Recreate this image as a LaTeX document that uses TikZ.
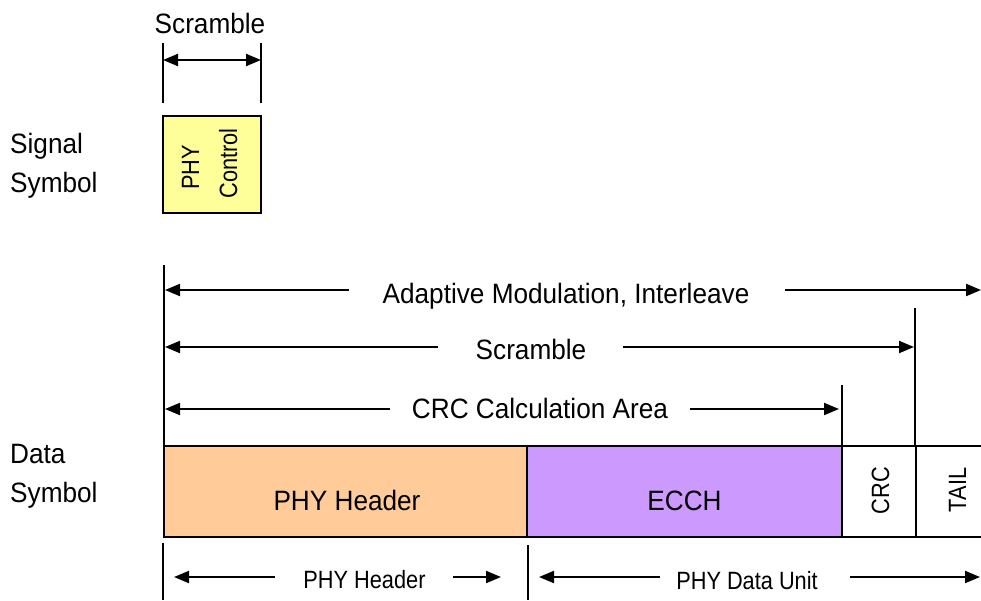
\documentclass[tikz,border=0pt]{standalone}
\usepackage{fontspec}
\setmainfont{Liberation Sans}
\newfontfamily\bigfam[FakeStretch=0.935]{Liberation Sans}
\newfontfamily\smallfam[FakeStretch=0.87]{Liberation Sans}
\usetikzlibrary{arrows.meta}
\begin{document}
\begin{tikzpicture}[x=1pt,y=-1pt,
  big/.style={font=\bigfam\fontsize{28}{32}\selectfont, inner sep=0pt, anchor=base},
  small/.style={font=\smallfam\fontsize{25}{29}\selectfont, inner sep=0pt, anchor=base},
  vsmall/.style={font=\smallfam\fontsize{25}{29}\selectfont, inner sep=0pt, rotate=90, anchor=base},
  arr/.style={line width=2pt, -{Triangle[length=15pt,width=12pt]}},
  darr/.style={line width=2pt, {Triangle[length=15pt,width=12pt]}-{Triangle[length=15pt,width=12pt]}},
  tick/.style={line width=1.6pt},
  field/.style={draw, line width=1.5pt}]
\useasboundingbox (0,0) rectangle (981,600);

% left labels
\node[big, anchor=base west] (sig1) at (10,153) {Signal};
\node[big, anchor=base west] (sig2) at (10,192) {Symbol};
\node[big, anchor=base west] (dat1) at (10,463) {Data};
\node[big, anchor=base west] (dat2) at (10,502) {Symbol};

% signal symbol
\node[big] (scrTop) at (210,33) {Scramble};
\coordinate (st1a) at (163,43); \coordinate (st1b) at (163,103);
\coordinate (st2a) at (261,43); \coordinate (st2b) at (261,103);
\draw[tick] (st1a) -- (st1b);
\draw[tick] (st2a) -- (st2b);
\coordinate (sa1) at (163,60); \coordinate (sa2) at (261,60);
\draw[darr] (sa1) -- (sa2);
\draw[field, fill={rgb,255:red,255;green,255;blue,153}] (163,116) rectangle (261,213);
\node[vsmall] (phy) at (199,167.5) {PHY};
\node[vsmall] (ctrl) at (237,163.5) {Control};

% data symbol fields
\draw[field, fill={rgb,255:red,255;green,204;blue,153}] (164,446) rectangle (527,537);
\draw[field, fill={rgb,255:red,204;green,153;blue,255}] (527,446) rectangle (842,537);
\coordinate (ct) at (842,446); \coordinate (cb) at (842,537);
\coordinate (tt) at (916,446); \coordinate (tb) at (916,537);
\coordinate (et) at (981,446); \coordinate (eb) at (981,537);
\draw[field] (ct) -- (et);
\draw[field] (cb) -- (eb);
\draw[field] (tt) -- (tb);
\node[big] (phyh) at (347,510) {PHY Header};
\node[big] (ecch) at (684.5,510) {ECCH};
\node[vsmall] (crc) at (889,490.5) {CRC};
\node[vsmall] (tail) at (966,490) {TAIL};

% vertical extents
\coordinate (v0a) at (164,265); \coordinate (v0b) at (164,446);
\draw[tick] (v0a) -- (v0b);
\coordinate (v1a) at (915,308); \coordinate (v1b) at (915,446);
\draw[tick] (v1a) -- (v1b);
\coordinate (v2a) at (842,385); \coordinate (v2b) at (842,446);
\draw[tick] (v2a) -- (v2b);

% adaptive modulation
\node[big] (adm) at (566,303) {Adaptive Modulation, Interleave};
\coordinate (a1s) at (349,290); \coordinate (a1e) at (165,290);
\coordinate (a2s) at (785,290); \coordinate (a2e) at (981,290);
\draw[arr] (a1s) -- (a1e);
\draw[arr] (a2s) -- (a2e);

% scramble
\node[big] (scr) at (531,359) {Scramble};
\coordinate (b1s) at (438,347); \coordinate (b1e) at (165,347);
\coordinate (b2s) at (623,347); \coordinate (b2e) at (914,347);
\draw[arr] (b1s) -- (b1e);
\draw[arr] (b2s) -- (b2e);

% crc calc
\node[big] (crcc) at (540,418) {CRC Calculation Area};
\coordinate (c1s) at (390,409); \coordinate (c1e) at (165,409);
\coordinate (c2s) at (690,409); \coordinate (c2e) at (839,409);
\draw[arr] (c1s) -- (c1e);
\draw[arr] (c2s) -- (c2e);

% bottom
\coordinate (w1a) at (163,543); \coordinate (w1b) at (163,600);
\coordinate (w2a) at (528,545); \coordinate (w2b) at (528,600);
\draw[tick] (w1a) -- (w1b);
\draw[tick] (w2a) -- (w2b);
\node[small] (bph) at (364.5,588) {PHY Header};
\coordinate (d1s) at (275,577); \coordinate (d1e) at (174,577);
\coordinate (d2s) at (453,577); \coordinate (d2e) at (501,577);
\draw[arr] (d1s) -- (d1e);
\draw[arr] (d2s) -- (d2e);
\node[small] (bpd) at (747,589) {PHY Data Unit};
\coordinate (e1s) at (660,577); \coordinate (e1e) at (539,577);
\coordinate (e2s) at (850,577); \coordinate (e2e) at (980,577);
\draw[arr] (e1s) -- (e1e);
\draw[arr] (e2s) -- (e2e);
\end{tikzpicture}
\end{document}
